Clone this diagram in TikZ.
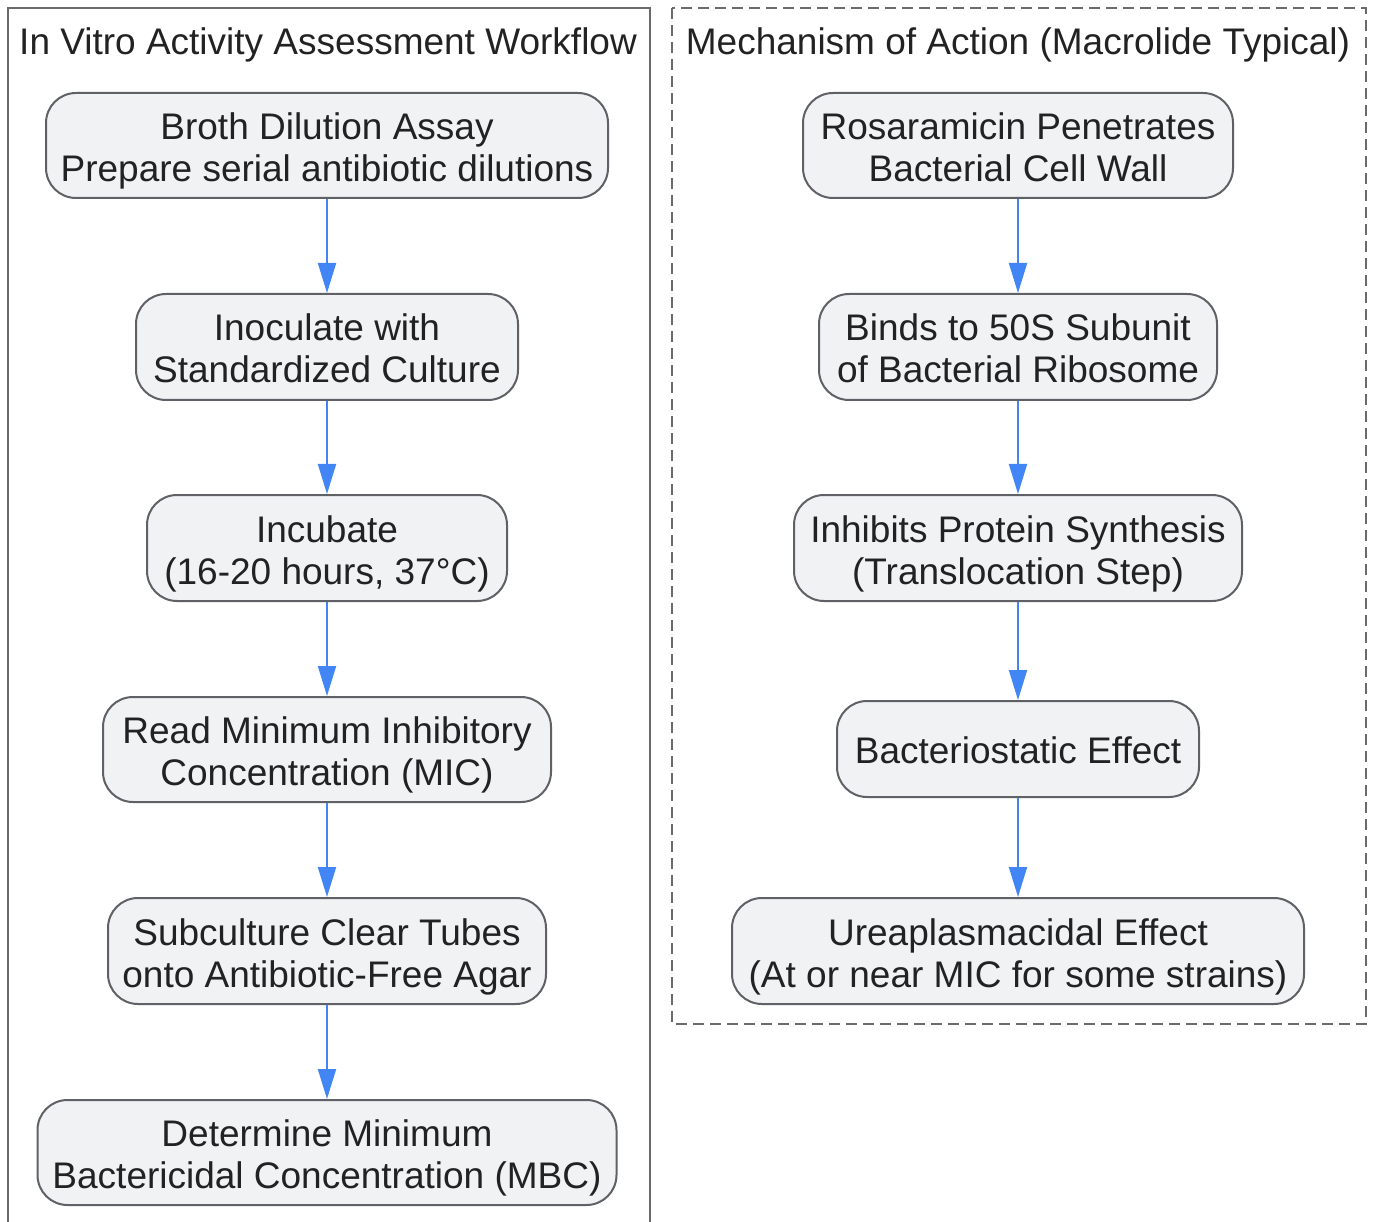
\documentclass[tikz,border=0pt]{standalone}
\usepackage{fontspec}
\setmainfont{Liberation Sans}
\usetikzlibrary{arrows.meta}
\definecolor{boxfill}{HTML}{F1F2F4}
\definecolor{boxline}{HTML}{5F6166}
\definecolor{arrowblue}{HTML}{4285F4}
\definecolor{txt}{HTML}{222222}
\definecolor{frameline}{HTML}{6A6A6A}
\newcommand{\twolines}[2]{\rule{0pt}{30pt}\smash{#1}\\\smash{#2}}
\newcommand{\oneline}[1]{\rule{0pt}{28pt}\smash{#1}}
\begin{document}
\begin{tikzpicture}[x=1pt,y=-1pt,
  stepbox/.style={draw=boxline, fill=boxfill, line width=2pt, rounded corners=30pt,
    inner sep=0pt, align=center, text=txt, font=\fontsize{37}{42}\selectfont},
  flow/.style={draw=arrowblue, line width=2pt, -{Triangle[length=30pt,width=18pt]}},
  frametitle/.style={text=txt, font=\fontsize{37}{42}\selectfont, inner sep=0pt, anchor=base}
]
\useasboundingbox (0,0) rectangle (1374,1222);
% frames
\draw[frameline, line width=2.2pt] (8,1240) -- (8,8) -- (650,8) -- (650,1240);
\draw[frameline, line width=2.2pt, dash pattern=on 11pt off 6pt] (672,8) rectangle (1366,1024);
\node[frametitle] (t1) at (328,55) {In Vitro Activity Assessment Workflow};
\node[frametitle] (t2) at (1018,55) {Mechanism of Action (Macrolide Typical)};
% left column
\node[stepbox, minimum width=562pt, minimum height=105pt] (a1) at (327,145.5) {\twolines{Broth Dilution Assay}{Prepare serial antibiotic dilutions}};
\node[stepbox, minimum width=382pt, minimum height=106pt] (a2) at (327,347) {\twolines{Inoculate with}{Standardized Culture}};
\node[stepbox, minimum width=360pt, minimum height=106pt] (a3) at (327,548) {\twolines{Incubate}{(16-20 hours, 37°C)}};
\node[stepbox, minimum width=448pt, minimum height=105pt] (a4) at (327,749.5) {\twolines{Read Minimum Inhibitory}{Concentration (MIC)}};
\node[stepbox, minimum width=438pt, minimum height=106pt] (a5) at (327,951) {\twolines{Subculture Clear Tubes}{onto Antibiotic-Free Agar}};
\node[stepbox, minimum width=579pt, minimum height=105pt] (a6) at (327,1152.5) {\twolines{Determine Minimum}{Bactericidal Concentration (MBC)}};
% right column
\node[stepbox, minimum width=430pt, minimum height=105pt] (b1) at (1018,145.5) {\twolines{Rosaramicin Penetrates}{Bacterial Cell Wall}};
\node[stepbox, minimum width=398pt, minimum height=106pt] (b2) at (1018,347) {\twolines{Binds to 50S Subunit}{of Bacterial Ribosome}};
\node[stepbox, minimum width=448pt, minimum height=106pt] (b3) at (1018,548) {\twolines{Inhibits Protein Synthesis}{(Translocation Step)}};
\node[stepbox, minimum width=362pt, minimum height=96pt] (b4) at (1018,749) {\oneline{Bacteriostatic Effect}};
\node[stepbox, minimum width=572pt, minimum height=106pt] (b5) at (1018,951) {\twolines{Ureaplasmacidal Effect}{(At or near MIC for some strains)}};
% arrows
\draw[flow] (a1) -- (a2);
\draw[flow] (a2) -- (a3);
\draw[flow] (a3) -- (a4);
\draw[flow] (a4) -- (a5);
\draw[flow] (a5) -- (a6);
\draw[flow] (b1) -- (b2);
\draw[flow] (b2) -- (b3);
\draw[flow] (b3) -- (b4);
\draw[flow] (b4) -- (b5);
\end{tikzpicture}
\end{document}
